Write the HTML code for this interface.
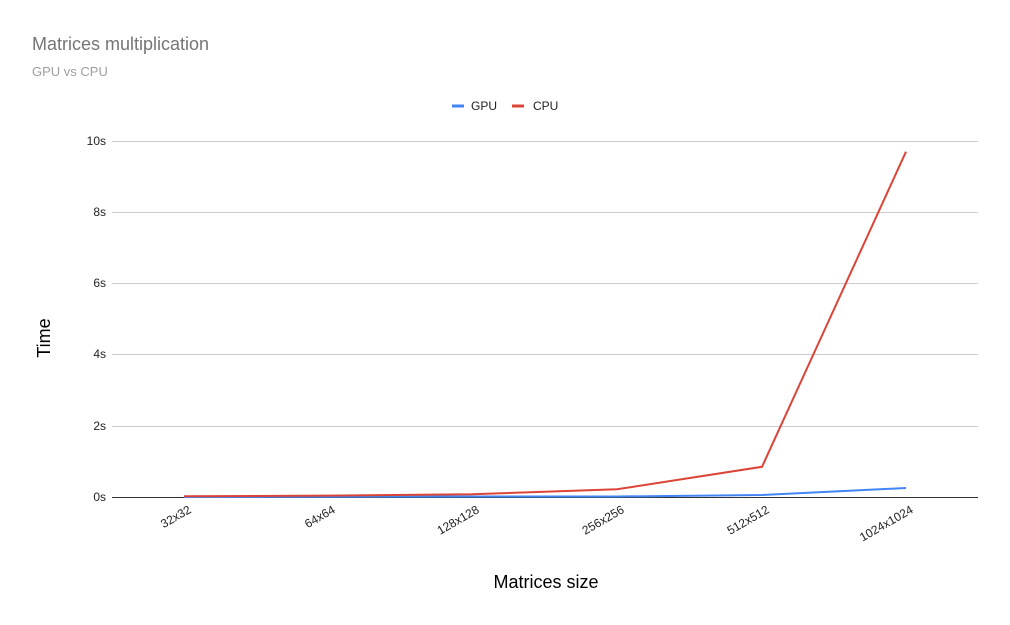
<!DOCTYPE html>
<html><head><meta charset="utf-8"><style>body{margin:0;background:#fff}svg{display:block}</style></head>
<body>
<svg width="1010" height="625" viewBox="0 0 1010 625" xmlns="http://www.w3.org/2000/svg" font-family="Liberation Sans, Arial, sans-serif">
<rect width="1010" height="625" fill="#fff"/>
<text x="32" y="50" font-size="18" fill="#757575">Matrices multiplication</text>
<text x="32" y="76" font-size="13" fill="#9e9e9e">GPU vs CPU</text>
<rect x="452" y="104.5" width="12" height="3" fill="#4285f4"/>
<text x="471" y="110" font-size="12" fill="#222">GPU</text>
<rect x="512" y="104.5" width="12" height="3" fill="#db4437"/>
<text x="533" y="110" font-size="12" fill="#222">CPU</text>
<g stroke="#ccc" stroke-width="1">
<line x1="112" y1="141.5" x2="978" y2="141.5"/>
<line x1="112" y1="212.5" x2="978" y2="212.5"/>
<line x1="112" y1="283.5" x2="978" y2="283.5"/>
<line x1="112" y1="354.5" x2="978" y2="354.5"/>
<line x1="112" y1="426.5" x2="978" y2="426.5"/>
</g>
<line x1="112" y1="497.5" x2="978" y2="497.5" stroke="#333" stroke-width="1"/>
<g font-size="12" fill="#222" text-anchor="end">
<text x="106" y="145">10s</text>
<text x="106" y="216">8s</text>
<text x="106" y="287">6s</text>
<text x="106" y="358">4s</text>
<text x="106" y="430">2s</text>
<text x="106" y="501">0s</text>
</g>
<polyline fill="none" stroke="#4285f4" stroke-width="2" points="184,497 328,496.7 472,496.5 617,496.5 762,495 906,488"/>
<polyline fill="none" stroke="#db4437" stroke-width="2" points="184,496.3 328,495.6 472,494.2 617,489.3 762,466.8 906,151.7"/>
<g font-size="12" fill="#222" text-anchor="end">
<text transform="translate(192,512) rotate(-30)">32x32</text>
<text transform="translate(336,512) rotate(-30)">64x64</text>
<text transform="translate(480,512) rotate(-30)">128x128</text>
<text transform="translate(625,512) rotate(-30)">256x256</text>
<text transform="translate(770,512) rotate(-30)">512x512</text>
<text transform="translate(914,512) rotate(-30)">1024x1024</text>
</g>
<text x="546" y="588" font-size="18" fill="#000" text-anchor="middle">Matrices size</text>
<text transform="translate(50,338) rotate(-90)" font-size="18" fill="#000" text-anchor="middle">Time</text>
</svg>
</body></html>
